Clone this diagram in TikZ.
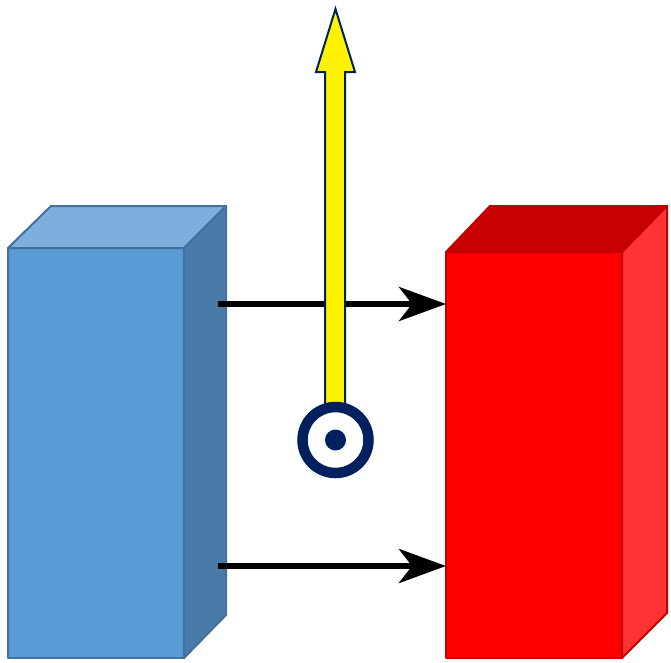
\documentclass[tikz,border=0pt]{standalone}
\usetikzlibrary{arrows.meta}
\definecolor{bfront}{HTML}{5B9BD5}
\definecolor{btop}{HTML}{7DAEDE}
\definecolor{bside}{HTML}{497BA8}
\definecolor{bline}{HTML}{41719C}
\definecolor{rfront}{HTML}{FF0000}
\definecolor{rtop}{HTML}{C80000}
\definecolor{rside}{HTML}{FF3333}
\definecolor{rline}{HTML}{C00000}
\definecolor{navy}{HTML}{002060}
\tikzset{
  bluebox/.style={draw=bline, line width=2pt, line join=round},
  redbox/.style={draw=rline, line width=2pt, line join=round},
  flow/.style={draw=black, line width=6pt, -{Stealth[length=47pt,width=34pt,inset=13pt]}},
  yarrow/.style={fill=yellow, draw=navy, line width=2pt, line join=miter},
}
\begin{document}
\begin{tikzpicture}[x=1pt,y=-1pt]
\useasboundingbox (0,0) rectangle (671,662);
% blue box
\fill[bfront] (8,248) rectangle (184,658);
\path[bluebox, fill=btop] (8,248) -- (51,206) -- (226,206) -- (184,248) -- cycle;
\path[bluebox, fill=bside] (184,248) -- (226,206) -- (226,615) -- (184,658) -- cycle;
\path[bluebox] (8,248) rectangle (184,658);
% red box
\fill[rfront] (446,252) rectangle (622,658);
\path[redbox, fill=rtop] (446,252) -- (490,206) -- (667,206) -- (622,252) -- cycle;
\path[redbox, fill=rside] (622,252) -- (667,206) -- (667,613) -- (622,658) -- cycle;
\path[redbox] (446,252) rectangle (622,658);
% connector anchors
\coordinate (s1) at (218,304);
\coordinate (e1) at (446,304);
\coordinate (s2) at (218,566);
\coordinate (e2) at (446,566);
\draw[flow] (s1) -- (e1);
\draw[flow] (s2) -- (e2);
% yellow arrow
\path[yarrow] (325,410) -- (325,72) -- (316,72) -- (335.5,9) -- (355,72) -- (345,72) -- (345,410) -- cycle;
% out-of-plane symbol
\node[circle, draw=navy, line width=10.5pt, minimum size=66pt, inner sep=0pt, fill=white] (ring) at (335.5,440) {};
\node[circle, fill=navy, minimum size=21pt, inner sep=0pt] (dot) at (ring.center) {};
\end{tikzpicture}
\end{document}
